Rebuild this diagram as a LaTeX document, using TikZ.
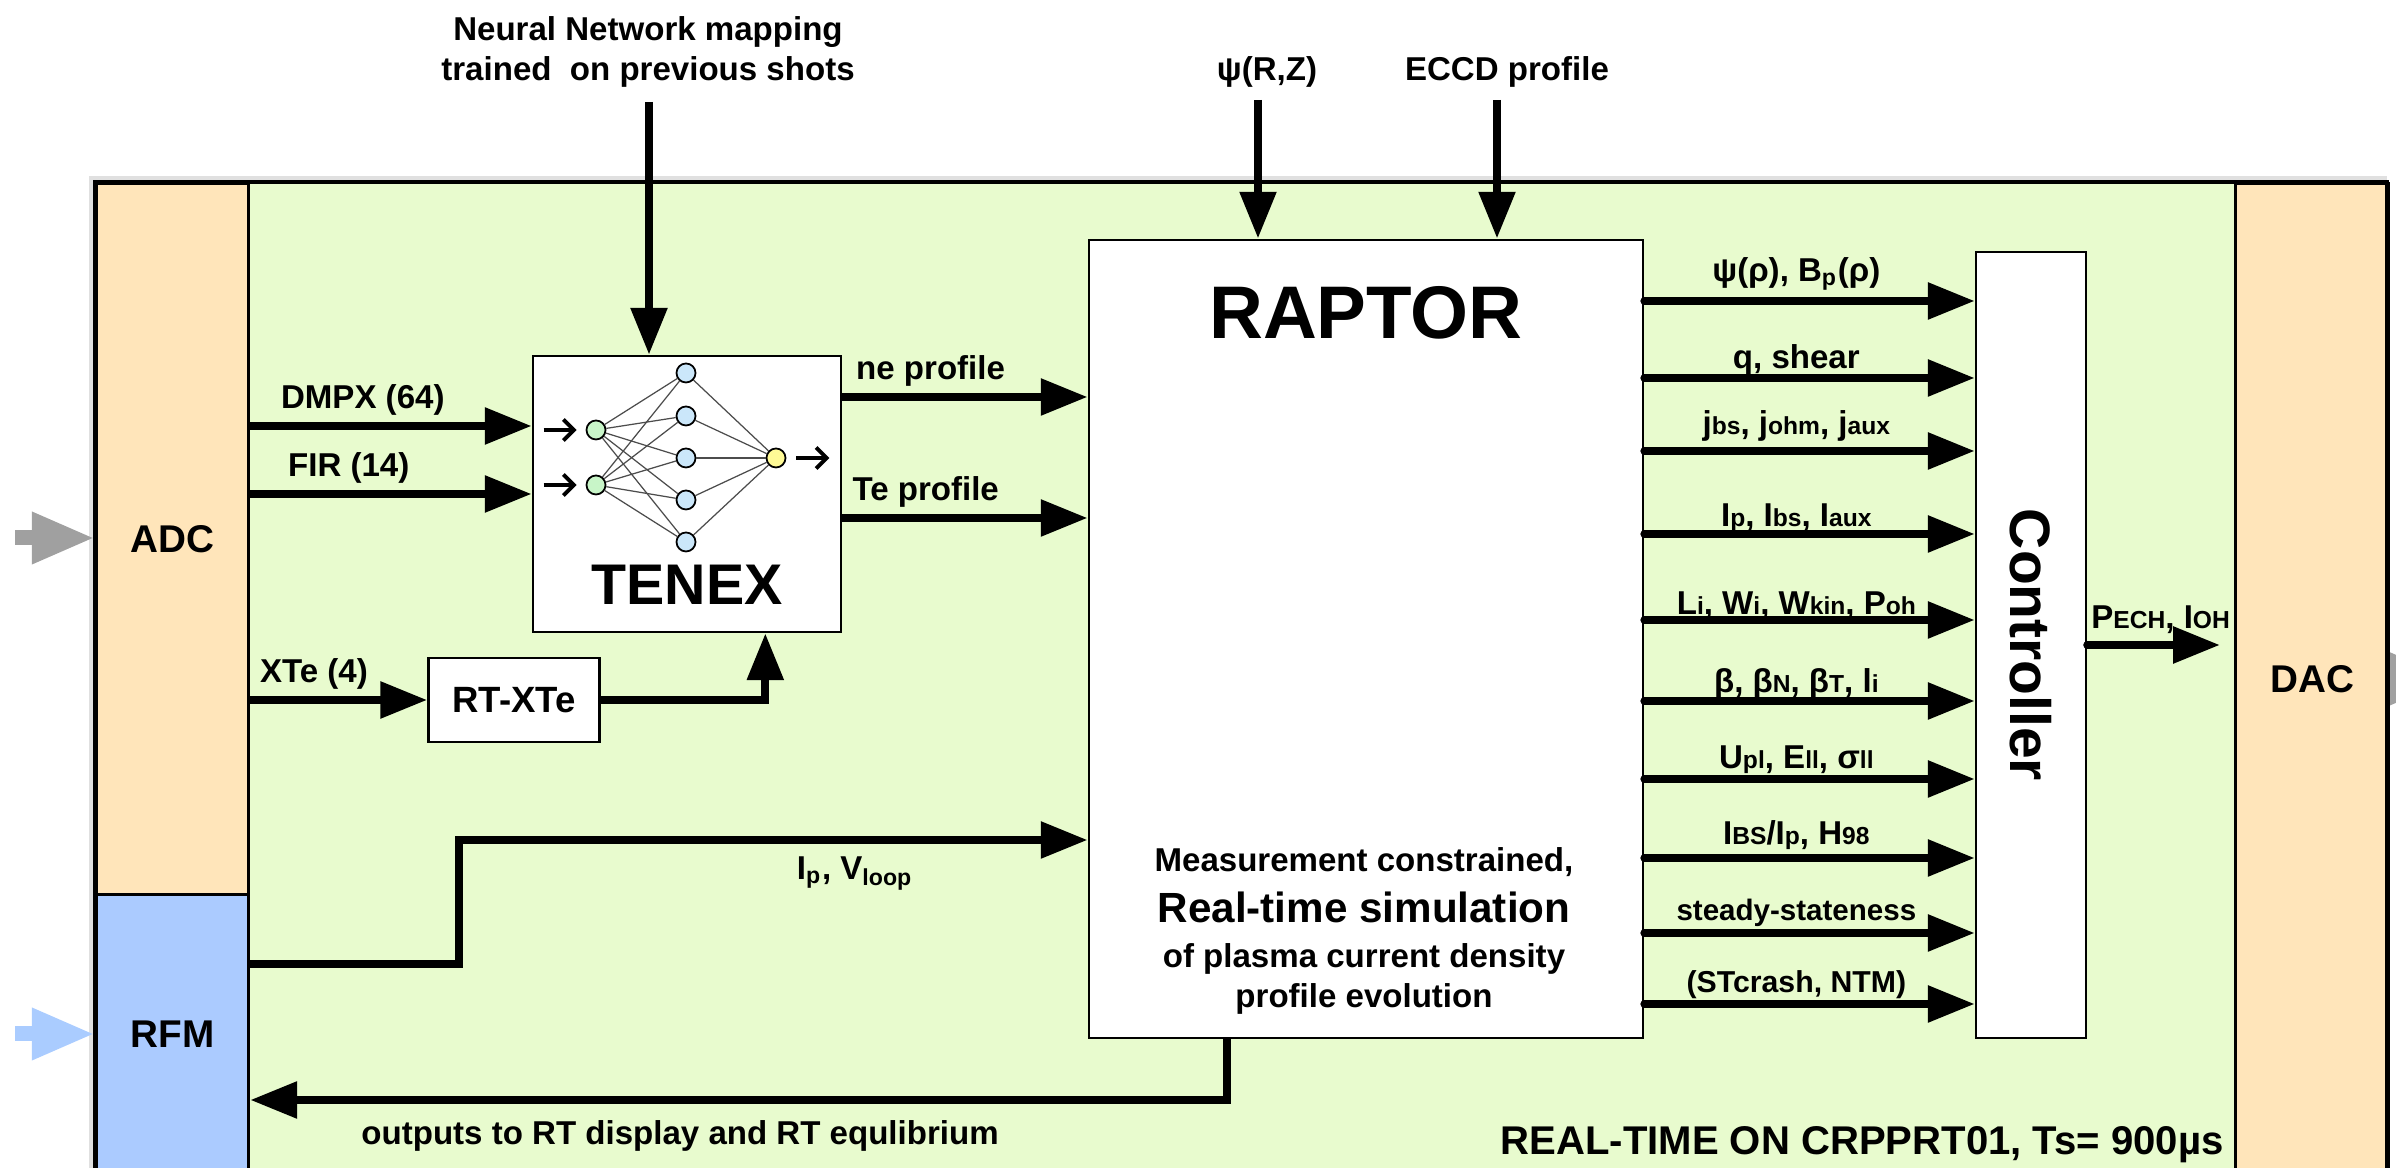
\documentclass[tikz,border=0pt]{standalone}
\usepackage{fontspec}
\setmainfont{Liberation Sans}
\usetikzlibrary{positioning,arrows.meta,calc}
\definecolor{rtgreen}{HTML}{E8FBCE}
\definecolor{ioorange}{HTML}{FFE5BA}
\definecolor{rfmblue}{HTML}{ABCBFF}
\definecolor{nngreen}{HTML}{C8F5C8}
\definecolor{nnblue}{HTML}{CBE7FA}
\definecolor{nnyellow}{HTML}{FFFA96}
\definecolor{arrowgray}{HTML}{A0A0A0}
\definecolor{arrowblue}{HTML}{AACCFF}
\newcommand{\sm}[1]{{\fontsize{7}{8}\selectfont #1}}
\newcommand{\fs}[1]{\fontsize{#1}{11.3}\selectfont}

\begin{document}
\begin{tikzpicture}[x=0.01cm,y=-0.01cm,>={Triangle[length=13.3pt,width=10pt]},
                    font=\bfseries\fs{9.4}]
  \tikzstyle{io}=[draw,line width=0.9pt,anchor=north west,minimum width=1.52cm,font=\bfseries\fs{11}]
  \tikzstyle{blk}=[draw,fill=white,line width=0.7pt,inner sep=0pt]
  \tikzstyle{sig}=[->,line width=2.3pt]
  \tikzstyle{fat}=[-{Triangle[length=0.63cm,width=0.48cm]},line width=0.15cm]
  \tikzstyle{nn}=[circle,draw,line width=0.5pt,minimum size=0.19cm,inner sep=0pt]
  \tikzstyle{nnedge}=[black!70,line width=0.35pt]
  \tikzstyle{nnarrow}=[-{Straight Barb[length=3pt,width=6pt]},line width=1.1pt]
  \tikzstyle{lbl}=[inner sep=2pt]

  \useasboundingbox (0,0) rectangle (2396,1168);
  \clip (0,0) rectangle (2396,1168);

  % frame: ADC / RFM / DAC and the real-time part
  \draw[black!12,line width=1.5pt] (92,1200) |- (2387,179);
  \fill[rtgreen] (247,182) rectangle (2234,1200);
  \node[io,fill=ioorange,minimum height=7.11cm] (adc) at (95,182) {ADC};
  \node[io,fill=rfmblue,minimum height=2.8cm] (rfm) at (95,893) {RFM};
  \node[io,fill=ioorange,minimum width=1.53cm,minimum height=9.9cm] (dac) at (2234,182) {DAC};
  \draw[line width=1.2pt] (95,1200) |- (2387,182) -- (2387,1200);

  \coordinate (adcin) at (15,538);
  \coordinate (rfmin) at (15,1034);
  \draw[fat,arrowgray] (adcin) -- (adc.west |- adcin);
  \draw[fat,arrowblue] (rfmin) -- (rfm.west |- rfmin);
  \draw[fat,arrowgray] ($(dac.east)+(3,0)$) -- ++(60,0);

  % blocks
  \node[blk,minimum width=3.08cm,minimum height=2.76cm] (tenex) at (687,494) {};
  \node[font=\bfseries\fs{16.3}] at (687,585) {TENEX};
  \node[blk,minimum width=1.71cm,minimum height=0.84cm,font=\bfseries\fs{10.4}] (rtxte) at (514,700) {RT-XTe};
  \node[blk,minimum width=5.54cm,minimum height=7.98cm] (raptor) at (1366,639) {};
  \node[font=\bfseries\fs{21.2}] at (1366,313) {RAPTOR};
  \node[align=center] at (1364,931) {Measurement constrained,\\[3.3pt]
    {\fs{12}Real-time simulation}\\[1.5pt]of plasma current density\\profile evolution};
  \node[blk,minimum width=1.1cm,minimum height=7.86cm] (ctrl) at (2031,645) {};
  \node[rotate=-90,font=\bfseries\fs{16.2}] at (ctrl) {Controller};

  % neural network
  \foreach \n/\y in {1/430,2/485} \node[nn,fill=nngreen] (in\n) at (596,\y) {};
  \foreach \n/\y in {1/373,2/416,3/458,4/500,5/542} \node[nn,fill=nnblue] (hd\n) at (686,\y) {};
  \node[nn,fill=nnyellow] (out) at (776,458) {};
  \foreach \i in {1,2} \foreach \h in {1,...,5} \draw[nnedge] (in\i) -- (hd\h);
  \foreach \h in {1,...,5} \draw[nnedge] (hd\h) -- (out);
  \foreach \i in {1,2} \draw[nnarrow] ($(in\i.west)+(-42,0)$) -- ($(in\i.west)+(-9,0)$);
  \draw[nnarrow] ($(out.east)+(10,0)$) -- ++(33,0);

  % inputs from above
  \node[align=center] (nnlbl) at (648,52) {Neural Network mapping\\trained\ \ on previous shots};
  \node (psilbl) at (1267,72) {ψ(R,Z)};
  \node (eccdlbl) at (1507,72) {ECCD profile};
  \coordinate (nnin) at (649,102);
  \coordinate (psiin) at (1258,100);
  \coordinate (eccdin) at (1497,100);
  \draw[sig] (nnin) -- (nnin |- tenex.north);
  \draw[sig] (psiin) -- (psiin |- raptor.north);
  \draw[sig] (eccdin) -- (eccdin |- raptor.north);

  % diagnostics
  \draw[sig] (adc.east |- 0,426) -- node[lbl,above,pos=0.4] {DMPX (64)} (tenex.west |- 0,426);
  \draw[sig] (adc.east |- 0,494) -- node[lbl,above,pos=0.35] {FIR (14)} (tenex.west |- 0,494);
  \draw[sig] (adc.east |- rtxte.west) -- node[lbl,above,pos=0.36] {XTe (4)} (rtxte.west);
  \draw[sig] (rtxte.east) -| ($(tenex.south east)+(-77,0)$);
  \draw[sig] (tenex.east |- 0,397) -- node[lbl,above,pos=0.36] {ne profile} (raptor.west |- 0,397);
  \draw[sig] (tenex.east |- 0,518) -- node[lbl,above,pos=0.34] {Te profile} (raptor.west |- 0,518);
  \coordinate (ipbend) at (459,840);
  \draw[sig] (rfm.east |- 0,964) -| (ipbend) -- node[lbl,below,pos=0.63,yshift=-1.7pt] {I\textsubscript{p}, V\textsubscript{loop}} (raptor.west |- ipbend);
  \draw[sig] (raptor.south -| 1227,0) |- node[lbl,below,pos=0.78,yshift=-2.6pt] {outputs to RT display and RT equlibrium} (rfm.east |- 0,1100);

  % RAPTOR outputs to the controller
  \foreach \yy/\dn/\txt in {301/0/{ψ(ρ), B\textsubscript{p}(ρ)}, 378/8/{q, shear},
      451/1/{j\sm{bs}, j\sm{ohm}, j\sm{aux}}, 534/9/{I\sm{p}, I\sm{bs}, I\sm{aux}},
      620/11/{L\sm{i}, W\sm{i}, W\sm{kin}, P\sm{oh}}, 701/9/{β, β\sm{N}, β\sm{T}, l\sm{i}},
      779/6/{U\sm{pl}, E\sm{ll}, σ\sm{ll}}, 858/3/{I\sm{BS}/I\sm{p}, H\sm{98}},
      933/5/{\fs{8.4}steady-stateness}, 1004/6/{\fs{8.6}(STcrash, NTM)}}
    \draw[sig,line cap=round] (raptor.east |- 0,\yy) -- node[lbl,above,pos=0.46,yshift=-\dn*0.2845pt] {\txt} (ctrl.west |- 0,\yy);
  \draw[sig,line cap=round,shorten >=4pt] (ctrl.east) -- node[lbl,above] {P\sm{ECH}, I\sm{OH}} (dac.west |- ctrl.east);

  \node[anchor=east,font=\bfseries\fs{11.4}] at (2236,1145) {REAL-TIME ON CRPPRT01, Ts= 900µs};
\end{tikzpicture}
\end{document}
